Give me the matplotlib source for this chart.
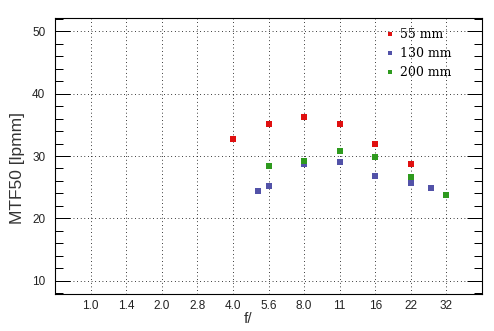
import matplotlib
matplotlib.use("Agg")
import matplotlib.pyplot as plt
from matplotlib.ticker import FixedLocator, MultipleLocator, NullLocator

# Data
tick_labels = ["1.0", "1.4", "2.0", "2.8", "4.0", "5.6", "8.0", "11", "16", "22", "32"]
tick_fnum = [2 ** (n / 2) for n in range(11)]

f55 = [4.0, 5.66, 8.0, 11.3, 16.0, 22.6]
mtf55 = [32.7, 35.2, 36.3, 35.1, 32.0, 28.7]

f130 = [5.1, 5.66, 8.0, 11.3, 16.0, 22.6, 27.5]
mtf130 = [24.35, 25.15, 28.7, 29.0, 26.75, 25.6, 24.8]

f200 = [5.66, 8.0, 11.3, 16.0, 22.6, 32.0]
mtf200 = [28.35, 29.15, 30.75, 29.8, 26.6, 23.7]

series = [("55 mm", f55, mtf55, "#e01010"),
          ("130 mm", f130, mtf130, "#5252a8"),
          ("200 mm", f200, mtf200, "#2e9a1e")]

fig = plt.figure(figsize=(4.94, 3.31), dpi=100)
ax = fig.add_axes([55 / 494, 1 - 294 / 331, 427 / 494, 276 / 331])

for label, x, y, c in series:
    ax.plot(x, y, linestyle="none", marker="s", markersize=3.8, color=c,
            markeredgewidth=0, label=label)

ax.set_xscale("log", base=2)
ax.set_xlim(2 ** -0.5, 2 ** 5.5)
ax.set_ylim(7.9, 52.1)
ax.xaxis.set_major_locator(FixedLocator(tick_fnum))
ax.set_xticklabels(tick_labels)
ax.xaxis.set_minor_locator(NullLocator())
ax.yaxis.set_major_locator(MultipleLocator(10))
ax.yaxis.set_minor_locator(MultipleLocator(2))

for lab in ax.get_xticklabels() + ax.get_yticklabels():
    lab.set_fontfamily("Liberation Sans")
    lab.set_fontsize(8.5)
    lab.set_color("#222222")

ax.tick_params(axis="x", which="both", length=0, pad=4.5)
ax.tick_params(axis="y", which="major", direction="in", length=11, width=0.72,
               left=True, right=True, pad=7)
ax.tick_params(axis="y", which="minor", direction="in", length=5.5, width=0.72,
               left=True, right=True)

ax.grid(True, which="major", color="black", linestyle=(0, (0.72, 2.9)),
        linewidth=0.72)
for s in ax.spines.values():
    s.set_linewidth(0.8)

ax.set_ylabel("MTF50 [lpmm]", fontfamily="Liberation Sans", fontsize=12.5,
              color="#333333")
ax.yaxis.set_label_coords(-(55 - 18) / 427, (294 - 167.5) / 276)
ax.yaxis.label.set_va("center")
ax.set_xlabel("f/", fontfamily="Liberation Sans", fontsize=11,
              color="#333333")
ax.xaxis.set_label_coords((248 - 55) / 427, -(319 - 294) / 276)
ax.xaxis.label.set_va("center")

leg = ax.legend(loc="upper left", bbox_to_anchor=(0.765, 0.982), frameon=False,
                prop=dict(family="DejaVu Serif", size=9), handlelength=0.6,
                handletextpad=0.45, labelspacing=0.5, markerscale=0.9,
                borderaxespad=0)

fig.savefig("out.png", dpi=100)
